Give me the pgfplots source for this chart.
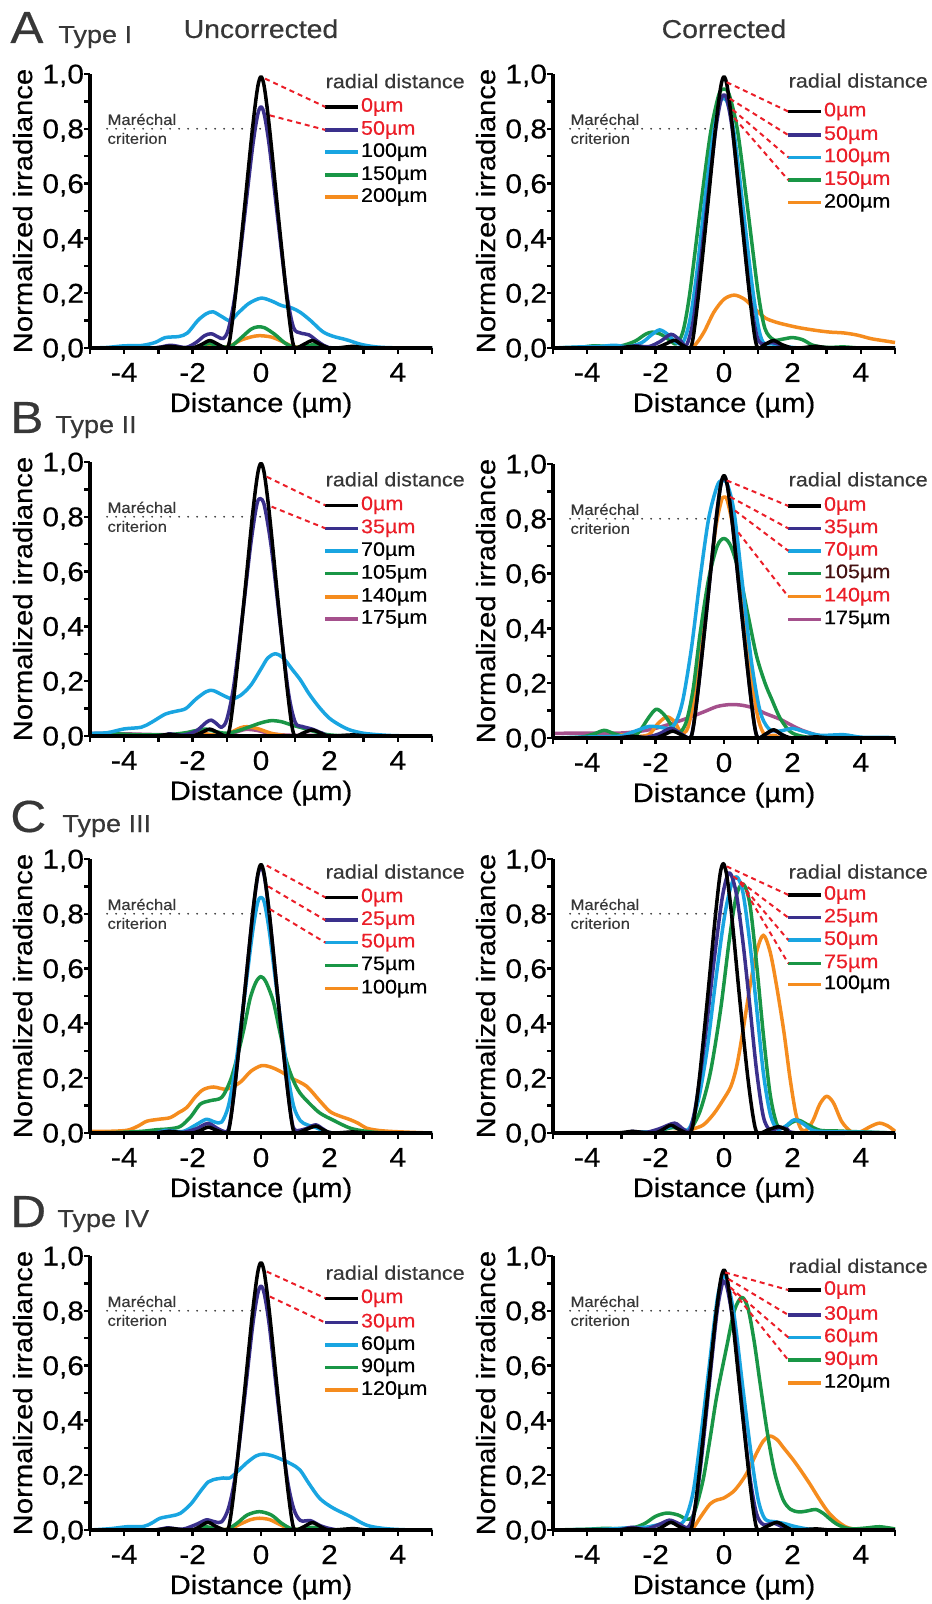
\documentclass[border=0pt]{standalone}
\usepackage{fontspec}
\setmainfont{Liberation Sans}[FakeStretch=1.1, FakeBold=0.4]
\usepackage{pgfplots}
\pgfplotsset{compat=1.18}

\definecolor{cblack}{RGB}{0,0,0}
\definecolor{cpurple}{RGB}{58,48,140}
\definecolor{cblue}{RGB}{25,165,225}
\definecolor{cgreen}{RGB}{25,150,70}
\definecolor{corange}{RGB}{245,140,30}
\definecolor{cmagenta}{RGB}{165,80,140}
\definecolor{cred}{RGB}{235,30,40}
\definecolor{cgray}{RGB}{55,55,55}
\definecolor{cbrown}{RGB}{70,18,18}

\newcommand{\fsTick}{\fontsize{13.6pt}{15pt}\selectfont}
\newcommand{\fsLab}{\fontsize{13.3pt}{15pt}\selectfont}
\newcommand{\fsLeg}{\fontsize{9.8pt}{11pt}\selectfont}
\newcommand{\fsMar}{\fontsize{7.6pt}{9pt}\selectfont}

% legend row: y, line colour, text colour, text
\newcommand{\lrow}[4]{\draw[#2, line width=1.7pt] (axis cs:1.88,#1) -- (axis cs:2.84,#1) node[anchor=west, inner sep=0.6pt, font=\fsLeg, text=#3] {#4};}
\newcommand{\ltitle}[1]{\node[anchor=west, inner sep=0pt, font=\fsLeg, text=cgray] at (axis cs:1.88,#1) {radial distance};}
\newcommand{\rdash}[4]{\draw[cred, line width=1pt, dash pattern=on 2.5pt off 2pt] (axis cs:#1,#2) -- (axis cs:#3,#4);}
\newcommand{\marechal}[1]{%
  \draw[cgray, line width=1pt, line cap=round, dash pattern=on 0pt off 4.5pt] (axis cs:-4.5,0.8) -- (axis cs:#1,0.8);
  \node[anchor=base west, inner sep=0pt, font=\fsMar, text=cgray] at (axis cs:-4.5,0.814) {Maréchal};
  \node[anchor=base west, inner sep=0pt, font=\fsMar, text=cgray] at (axis cs:-4.5,0.745) {criterion};}

\pgfplotsset{
  psf/.style={
    scale only axis, width=171pt, height=137pt,
    xmin=-5, xmax=5, ymin=0, ymax=1,
    axis lines*=left, axis on top, clip=false,
    axis line style={line width=1.8pt, -},
    tick style={line width=1.2pt, black},
    tick align=outside,
    major tick length=2.8pt, minor tick length=2.8pt,
    xtick={-4,-2,0,2,4}, xticklabels={-4,-2,0,2,4},
    minor xtick={-5,-3,-1,1,3,5},
    ytick={0,0.2,0.4,0.6,0.8,1},
    yticklabels={{0,0},{0,2},{0,4},{0,6},{0,8},{1,0}},
    minor ytick={0.1,0.3,0.5,0.7,0.9},
    xticklabel style={font=\fsTick, anchor=north, inner sep=0pt, yshift=-4.5pt},
    yticklabel style={font=\fsTick, anchor=east, inner sep=0pt, text depth=0pt},
    xlabel={Distance (µm)}, ylabel={Normalized irradiance},
    xlabel style={font=\fsLab, at={(axis description cs:0.5,-0.2336)}, anchor=base},
    ylabel style={font=\fsLab, at={(axis description cs:-0.197,0.5)}, anchor=center},
    every axis plot/.append style={line width=1.75pt, smooth, line join=round},
  }
}

\begin{document}
\begin{tikzpicture}
\useasboundingbox (0,0) rectangle (465.5pt,-802pt);

% ---------------- A, uncorrected
\begin{axis}[psf, at={(45pt,-174pt)}, anchor=south west]
\addplot[corange] coordinates {(-5,0) (-2,0) (-1.6,0.006) (-1.2,0.002) (-0.9,0.008) (-0.6,0.028) (-0.3,0.04) (-0.05,0.045) (0.3,0.04) (0.6,0.025) (0.9,0.007) (1.2,0.002) (1.6,0.005) (2,0) (5,0)};
\addplot[cgreen] coordinates {(-5,0) (-2.2,0) (-1.8,0.008) (-1.5,0.016) (-1.2,0.006) (-0.9,0.005) (-0.6,0.035) (-0.3,0.068) (-0.1,0.077) (0.1,0.074) (0.4,0.05) (0.7,0.018) (0.95,0.003) (1.25,0.005) (1.55,0.012) (1.9,0.002) (2.3,0) (5,0)};
\addplot[cblue] coordinates {(-5,0) (-4.5,0.002) (-4.0,0.008) (-3.5,0.009) (-3.1,0.02) (-2.8,0.038) (-2.4,0.042) (-2.15,0.055) (-1.85,0.1) (-1.6,0.125) (-1.4,0.132) (-1.15,0.115) (-0.9,0.1) (-0.65,0.13) (-0.35,0.163) (0,0.182) (0.3,0.172) (0.6,0.155) (0.9,0.146) (1.15,0.13) (1.45,0.1) (1.8,0.06) (2.1,0.043) (2.5,0.03) (2.9,0.014) (3.3,0.005) (3.8,0.001) (5,0)};
\addplot[cpurple] coordinates {(-5,0) (-3.2,0) (-2.65,0.01) (-2.2,0.002) (-1.9,0.02) (-1.65,0.045) (-1.45,0.052) (-1.25,0.04) (-1.1,0.035) (-0.95,0.07) (-0.75,0.2) (-0.5,0.46) (-0.25,0.73) (-0.1,0.85) (0,0.88) (0.1,0.85) (0.25,0.73) (0.5,0.46) (0.75,0.2) (0.95,0.075) (1.15,0.055) (1.4,0.048) (1.65,0.025) (1.9,0.006) (2.3,0) (5,0)};
\addplot[cblack] coordinates {(-5,0) (-3.2,0) (-2.7,0.006) (-2.3,0.001) (-2.0,0) (-1.75,0.012) (-1.5,0.027) (-1.25,0.013) (-1.0,0) (-0.9,0.04) (-0.75,0.19) (-0.5,0.49) (-0.25,0.80) (-0.1,0.95) (0,0.99) (0.1,0.95) (0.25,0.80) (0.5,0.49) (0.75,0.19) (0.9,0.04) (1.0,0) (1.25,0.013) (1.5,0.027) (1.75,0.012) (2.0,0) (2.3,0.001) (2.7,0.006) (3.2,0) (5,0)};
\marechal{0.07}
\ltitle{0.974}
\lrow{0.880}{cblack}{cred}{0µm}
\lrow{0.796}{cpurple}{cred}{50µm}
\lrow{0.715}{cblue}{black}{100µm}
\lrow{0.631}{cgreen}{black}{150µm}
\lrow{0.551}{corange}{black}{200µm}
\rdash{0.12}{0.983}{1.88}{0.880}
\rdash{0.26}{0.849}{1.88}{0.796}
\end{axis}

% ---------------- A, corrected
\begin{axis}[psf, at={(276.5pt,-174pt)}, anchor=south west]
\addplot[corange] coordinates {(-5,0) (-1.3,0) (-0.9,0.006) (-0.6,0.055) (-0.3,0.13) (0,0.178) (0.3,0.193) (0.6,0.178) (0.9,0.143) (1.2,0.11) (1.5,0.095) (1.8,0.085) (2.2,0.074) (2.7,0.064) (3.1,0.058) (3.5,0.055) (3.9,0.047) (4.3,0.034) (4.7,0.026) (5,0.02)};
\addplot[cgreen] coordinates {(-5,0) (-4.2,0.003) (-3.8,0.008) (-3.4,0.006) (-3.0,0.008) (-2.6,0.025) (-2.3,0.05) (-2.1,0.058) (-1.85,0.05) (-1.6,0.03) (-1.4,0.015) (-1.2,0.06) (-1.0,0.2) (-0.7,0.5) (-0.4,0.78) (-0.15,0.925) (0,0.945) (0.15,0.925) (0.4,0.79) (0.7,0.5) (1.0,0.2) (1.2,0.07) (1.45,0.03) (1.7,0.032) (2.0,0.038) (2.3,0.03) (2.6,0.01) (3.0,0.002) (3.5,0.004) (4,0) (5,0)};
\addplot[cblue] coordinates {(-5,0) (-4.2,0.004) (-3.6,0.006) (-3.2,0.01) (-2.8,0.005) (-2.4,0.02) (-2.1,0.05) (-1.88,0.066) (-1.65,0.05) (-1.4,0.02) (-1.2,0.02) (-1.0,0.1) (-0.8,0.27) (-0.55,0.55) (-0.3,0.79) (-0.12,0.895) (-0.03,0.91) (0.1,0.895) (0.3,0.78) (0.55,0.52) (0.8,0.25) (1.0,0.08) (1.15,0.02) (1.4,0.015) (1.6,0.01) (2,0.002) (2.5,0) (5,0)};
\addplot[cpurple] coordinates {(-5,0) (-3.0,0) (-2.6,0.008) (-2.2,0.005) (-1.85,0.025) (-1.55,0.05) (-1.3,0.03) (-1.1,0.01) (-0.9,0.1) (-0.7,0.3) (-0.5,0.52) (-0.25,0.79) (-0.1,0.9) (0,0.925) (0.1,0.9) (0.25,0.79) (0.5,0.5) (0.75,0.2) (0.95,0.05) (1.1,0.015) (1.4,0.02) (1.7,0.01) (2,0) (5,0)};
\addplot[cblack] coordinates {(-5,0) (-3.2,0) (-2.7,0.006) (-2.3,0.001) (-2.0,0) (-1.75,0.012) (-1.45,0.028) (-1.25,0.013) (-1.0,0) (-0.9,0.04) (-0.75,0.19) (-0.5,0.49) (-0.25,0.80) (-0.1,0.95) (0,0.99) (0.1,0.95) (0.25,0.80) (0.5,0.49) (0.75,0.19) (0.9,0.04) (1.0,0) (1.2,0.013) (1.45,0.027) (1.7,0.012) (2.0,0) (2.3,0.001) (2.7,0.006) (3.2,0) (5,0)};
\marechal{0.1}
\ltitle{0.976}
\lrow{0.863}{cblack}{cred}{0µm}
\lrow{0.777}{cpurple}{cred}{50µm}
\lrow{0.696}{cblue}{cred}{100µm}
\lrow{0.613}{cgreen}{cred}{150µm}
\lrow{0.530}{corange}{black}{200µm}
\rdash{0.08}{0.97}{1.88}{0.863}
\rdash{0.17}{0.91}{1.88}{0.777}
\rdash{0.25}{0.87}{1.88}{0.696}
\rdash{0.3}{0.84}{1.88}{0.613}
\end{axis}

% ---------------- B, uncorrected
\begin{axis}[psf, at={(45pt,-368pt)}, anchor=south west]
\addplot[cmagenta] coordinates {(-5,0.01) (-4,0.008) (-3,0.005) (-2,0.004) (-1.2,0.004) (-0.8,0.012) (-0.45,0.024) (-0.1,0.02) (0.3,0.008) (0.8,0.003) (1.5,0.002) (2.5,0) (5,0)};
\addplot[corange] coordinates {(-5,0) (-2.8,0) (-2.2,0.006) (-1.9,0.012) (-1.6,0.008) (-1.2,0.002) (-0.9,0.012) (-0.6,0.03) (-0.4,0.034) (-0.1,0.027) (0.3,0.01) (0.7,0.002) (1.2,0) (5,0)};
\addplot[cgreen] coordinates {(-5,0.008) (-4.3,0.008) (-3.5,0.004) (-2.7,0.005) (-2.2,0.012) (-1.9,0.02) (-1.6,0.025) (-1.3,0.015) (-1.0,0.01) (-0.7,0.018) (-0.3,0.035) (0,0.048) (0.3,0.056) (0.6,0.052) (0.9,0.04) (1.2,0.03) (1.6,0.015) (2.0,0.004) (2.6,0.001) (5,0)};
\addplot[cblue] coordinates {(-5,0.01) (-4.5,0.012) (-4.0,0.026) (-3.5,0.032) (-3.2,0.05) (-2.8,0.08) (-2.5,0.09) (-2.2,0.1) (-1.9,0.135) (-1.6,0.162) (-1.4,0.166) (-1.1,0.148) (-0.85,0.136) (-0.6,0.148) (-0.3,0.185) (0,0.245) (0.2,0.285) (0.42,0.3) (0.65,0.285) (0.9,0.245) (1.15,0.205) (1.4,0.155) (1.7,0.105) (2.0,0.065) (2.3,0.04) (2.6,0.022) (3.0,0.01) (3.5,0.004) (4,0.001) (5,0)};
\addplot[cpurple] coordinates {(-5,0) (-3,0) (-2.7,0.008) (-2.3,0.003) (-1.9,0.018) (-1.6,0.05) (-1.45,0.058) (-1.3,0.045) (-1.15,0.032) (-1.0,0.06) (-0.8,0.18) (-0.55,0.43) (-0.3,0.7) (-0.13,0.84) (-0.03,0.867) (0.1,0.84) (0.3,0.69) (0.55,0.42) (0.8,0.16) (1.0,0.05) (1.2,0.035) (1.5,0.025) (1.8,0.01) (2.2,0) (5,0)};
\addplot[cblack] coordinates {(-5,0) (-3.2,0) (-2.7,0.006) (-2.3,0.001) (-2.0,0) (-1.75,0.012) (-1.5,0.025) (-1.25,0.012) (-1.0,0) (-0.9,0.04) (-0.75,0.19) (-0.5,0.49) (-0.25,0.805) (-0.1,0.955) (0,0.995) (0.1,0.955) (0.25,0.805) (0.5,0.49) (0.75,0.19) (0.9,0.04) (1.0,0) (1.25,0.012) (1.5,0.022) (1.75,0.01) (2.0,0) (2.7,0.004) (3.2,0) (5,0)};
\marechal{0.03}
\ltitle{0.937}
\lrow{0.842}{cblack}{cred}{0µm}
\lrow{0.758}{cpurple}{cred}{35µm}
\lrow{0.675}{cblue}{black}{70µm}
\lrow{0.592}{cgreen}{black}{105µm}
\lrow{0.508}{corange}{black}{140µm}
\lrow{0.427}{cmagenta}{black}{175µm}
\rdash{0.17}{0.946}{1.88}{0.842}
\rdash{0.31}{0.837}{1.88}{0.758}
\end{axis}

% ---------------- B, corrected
\begin{axis}[psf, at={(276.5pt,-369pt)}, anchor=south west]
\addplot[cmagenta] coordinates {(-5,0.017) (-4,0.018) (-3.05,0.018) (-2.5,0.024) (-2.07,0.033) (-1.6,0.05) (-1.1,0.071) (-0.6,0.095) (-0.2,0.115) (0.17,0.122) (0.5,0.12) (0.85,0.11) (1.2,0.09) (1.63,0.069) (2.0,0.045) (2.31,0.027) (2.8,0.008) (3.3,0.002) (4,0) (5,0)};
\addplot[corange] coordinates {(-5,0) (-3.4,0.003) (-3.0,0.012) (-2.6,0.006) (-2.2,0.012) (-1.95,0.05) (-1.68,0.077) (-1.45,0.06) (-1.25,0.02) (-1.05,0.04) (-0.8,0.2) (-0.5,0.5) (-0.25,0.76) (-0.08,0.865) (0,0.879) (0.1,0.865) (0.3,0.74) (0.55,0.47) (0.8,0.22) (1.0,0.07) (1.2,0.01) (1.5,0.01) (1.9,0) (5,0)};
\addplot[cgreen] coordinates {(-5,0) (-4.2,0.003) (-3.8,0.015) (-3.5,0.028) (-3.2,0.015) (-2.8,0.003) (-2.5,0.02) (-2.2,0.075) (-1.98,0.105) (-1.75,0.085) (-1.5,0.04) (-1.3,0.02) (-1.1,0.06) (-0.9,0.18) (-0.7,0.38) (-0.45,0.58) (-0.2,0.7) (0,0.728) (0.2,0.7) (0.45,0.6) (0.7,0.45) (0.95,0.3) (1.2,0.2) (1.4,0.14) (1.65,0.07) (1.95,0.022) (2.3,0.006) (2.8,0) (5,0)};
\addplot[cblue] coordinates {(-5,0) (-4.2,0.003) (-3.5,0.005) (-3.0,0.008) (-2.6,0.025) (-2.2,0.042) (-1.9,0.04) (-1.6,0.035) (-1.4,0.06) (-1.2,0.14) (-0.95,0.33) (-0.7,0.58) (-0.45,0.8) (-0.2,0.92) (-0.05,0.94) (0.1,0.925) (0.3,0.82) (0.55,0.55) (0.8,0.28) (1.05,0.1) (1.3,0.035) (1.6,0.025) (2.0,0.035) (2.3,0.025) (2.8,0.01) (3.5,0.012) (4,0.003) (4.8,0.002) (5,0)};
\addplot[cpurple] coordinates {(-5,0) (-3.2,0) (-2.7,0.006) (-2.3,0.002) (-1.9,0.015) (-1.55,0.035) (-1.25,0.015) (-1.0,0) (-0.9,0.04) (-0.75,0.185) (-0.5,0.475) (-0.25,0.78) (-0.1,0.92) (0,0.955) (0.1,0.92) (0.25,0.78) (0.5,0.475) (0.75,0.185) (0.9,0.04) (1.0,0) (1.2,0.012) (1.45,0.028) (1.7,0.012) (2.0,0) (5,0)};
\addplot[cblack] coordinates {(-5,0) (-3.2,0) (-2.7,0.006) (-2.3,0.001) (-2.0,0) (-1.75,0.012) (-1.5,0.025) (-1.25,0.012) (-1.0,0) (-0.9,0.038) (-0.75,0.182) (-0.5,0.474) (-0.25,0.776) (-0.1,0.92) (0,0.958) (0.1,0.92) (0.25,0.776) (0.5,0.474) (0.75,0.182) (0.9,0.038) (1.0,0) (1.2,0.013) (1.45,0.03) (1.7,0.012) (2.0,0) (2.7,0.004) (3.2,0) (5,0)};
\marechal{0.08}
\ltitle{0.944}
\lrow{0.847}{cblack}{cred}{0µm}
\lrow{0.765}{cpurple}{cred}{35µm}
\lrow{0.683}{cblue}{cred}{70µm}
\lrow{0.601}{cgreen}{cbrown}{105µm}
\lrow{0.516}{corange}{cred}{140µm}
\lrow{0.433}{cmagenta}{black}{175µm}
\rdash{0.08}{0.94}{1.88}{0.847}
\rdash{0.18}{0.88}{1.88}{0.765}
\rdash{0.32}{0.83}{1.88}{0.683}
\rdash{0.42}{0.75}{1.88}{0.516}
\end{axis}

% ---------------- C, uncorrected
\begin{axis}[psf, at={(45pt,-566.5pt)}, anchor=south west]
\addplot[corange] coordinates {(-5,0.006) (-4.5,0.006) (-3.92,0.01) (-3.6,0.025) (-3.34,0.043) (-3.0,0.05) (-2.66,0.056) (-2.4,0.075) (-2.17,0.093) (-1.9,0.135) (-1.68,0.159) (-1.39,0.168) (-1.0,0.16) (-0.61,0.185) (-0.3,0.225) (0.02,0.246) (0.3,0.24) (0.55,0.226) (0.9,0.2) (1.33,0.171) (1.7,0.12) (2.01,0.079) (2.3,0.062) (2.6,0.049) (2.85,0.035) (3.08,0.018) (3.4,0.01) (3.77,0.006) (4.5,0.002) (5,0)};
\addplot[cgreen] coordinates {(-5,0) (-4.2,0.002) (-3.5,0.006) (-3.05,0.012) (-2.7,0.015) (-2.36,0.024) (-2.05,0.06) (-1.78,0.105) (-1.49,0.118) (-1.15,0.13) (-0.9,0.19) (-0.71,0.27) (-0.5,0.38) (-0.32,0.49) (-0.15,0.55) (0,0.571) (0.15,0.55) (0.36,0.48) (0.55,0.37) (0.75,0.26) (0.95,0.19) (1.14,0.146) (1.4,0.11) (1.72,0.073) (2.11,0.047) (2.6,0.018) (3.08,0.006) (3.6,0.001) (5,0)};
\addplot[cblue] coordinates {(-5,0) (-3.2,0) (-2.8,0.01) (-2.3,0.005) (-1.9,0.03) (-1.6,0.05) (-1.35,0.04) (-1.15,0.04) (-0.95,0.1) (-0.75,0.24) (-0.5,0.48) (-0.25,0.73) (-0.1,0.84) (0,0.86) (0.1,0.84) (0.25,0.73) (0.5,0.48) (0.75,0.24) (0.95,0.1) (1.15,0.045) (1.35,0.03) (1.6,0.02) (1.9,0.005) (2.3,0) (5,0)};
\addplot[cpurple] coordinates {(-5,0) (-3.2,0) (-2.7,0.006) (-2.3,0.002) (-1.9,0.015) (-1.55,0.035) (-1.25,0.015) (-1.0,0.005) (-0.9,0.045) (-0.75,0.19) (-0.5,0.485) (-0.25,0.79) (-0.1,0.935) (0,0.97) (0.1,0.935) (0.25,0.79) (0.5,0.485) (0.75,0.19) (0.9,0.045) (1.0,0.01) (1.3,0.015) (1.6,0.03) (1.85,0.012) (2.2,0) (5,0)};
\addplot[cblack] coordinates {(-5,0) (-3.2,0) (-2.7,0.006) (-2.3,0.001) (-2.0,0) (-1.75,0.01) (-1.55,0.022) (-1.3,0.01) (-1.0,0) (-0.9,0.039) (-0.75,0.186) (-0.5,0.485) (-0.25,0.794) (-0.1,0.94) (0,0.98) (0.1,0.94) (0.25,0.794) (0.5,0.485) (0.75,0.186) (0.9,0.039) (1.0,0) (1.3,0.012) (1.6,0.025) (1.85,0.01) (2.1,0) (2.7,0.004) (3.2,0) (5,0)};
\marechal{0.26}
\ltitle{0.954}
\lrow{0.860}{cblack}{cred}{0µm}
\lrow{0.777}{cpurple}{cred}{25µm}
\lrow{0.695}{cblue}{cred}{50µm}
\lrow{0.612}{cgreen}{black}{75µm}
\lrow{0.527}{corange}{black}{100µm}
\rdash{0.17}{0.976}{1.88}{0.860}
\rdash{0.21}{0.90}{1.88}{0.777}
\rdash{0.26}{0.817}{1.88}{0.695}
\end{axis}

% ---------------- C, corrected
\begin{axis}[psf, at={(276.5pt,-566.5pt)}, anchor=south west]
\addplot[corange] coordinates {(-5,0) (-2,0) (-1.2,0.005) (-0.9,0.015) (-0.6,0.03) (-0.3,0.07) (-0.02,0.122) (0.2,0.17) (0.37,0.243) (0.55,0.37) (0.76,0.535) (0.95,0.66) (1.15,0.722) (1.35,0.66) (1.54,0.535) (1.75,0.37) (1.93,0.2) (2.1,0.07) (2.25,0.015) (2.4,0.01) (2.6,0.045) (2.8,0.105) (3.0,0.134) (3.2,0.11) (3.45,0.04) (3.75,0.002) (4.0,0.005) (4.3,0.025) (4.55,0.036) (4.8,0.025) (5,0.006)};
\addplot[cgreen] coordinates {(-5,0) (-3,0) (-2.5,0.003) (-2,0.005) (-1.5,0.02) (-1.2,0.01) (-1.0,0.01) (-0.7,0.08) (-0.4,0.22) (-0.1,0.45) (0.15,0.7) (0.35,0.86) (0.55,0.91) (0.75,0.84) (0.95,0.62) (1.15,0.36) (1.35,0.14) (1.55,0.03) (1.75,0.02) (2.0,0.04) (2.2,0.046) (2.45,0.03) (2.8,0.01) (3.2,0.008) (3.8,0.005) (5,0)};
\addplot[cblue] coordinates {(-5,0) (-3,0) (-2.5,0.003) (-2,0.005) (-1.5,0.025) (-1.2,0.012) (-1.0,0.02) (-0.75,0.12) (-0.5,0.3) (-0.25,0.55) (0,0.78) (0.2,0.9) (0.37,0.935) (0.55,0.88) (0.75,0.7) (0.95,0.46) (1.15,0.22) (1.35,0.07) (1.55,0.015) (1.8,0.025) (2.05,0.048) (2.3,0.035) (2.6,0.01) (3,0.005) (4,0.003) (5,0)};
\addplot[cpurple] coordinates {(-5,0) (-3,0) (-2.7,0.006) (-2.3,0.002) (-1.9,0.015) (-1.45,0.036) (-1.2,0.015) (-1.0,0.01) (-0.8,0.12) (-0.55,0.35) (-0.3,0.62) (-0.05,0.86) (0.15,0.95) (0.35,0.88) (0.55,0.7) (0.75,0.47) (0.95,0.23) (1.15,0.06) (1.35,0.01) (1.6,0.02) (1.85,0.015) (2.2,0) (5,0)};
\addplot[cblack] coordinates {(-5,0) (-3.2,0) (-2.7,0.006) (-2.3,0.001) (-2.0,0) (-1.8,0.012) (-1.55,0.028) (-1.3,0.012) (-1.0,0) (-0.88,0.05) (-0.72,0.2) (-0.5,0.47) (-0.27,0.77) (-0.12,0.94) (-0.02,0.983) (0.08,0.94) (0.22,0.8) (0.45,0.5) (0.68,0.22) (0.85,0.06) (0.98,0) (1.3,0.012) (1.6,0.023) (1.85,0.01) (2.1,0) (5,0)};
\marechal{0.71}
\ltitle{0.954}
\lrow{0.869}{cblack}{cred}{0µm}
\lrow{0.786}{cpurple}{cred}{25µm}
\lrow{0.704}{cblue}{cred}{50µm}
\lrow{0.619}{cgreen}{cred}{75µm}
\lrow{0.543}{corange}{black}{100µm}
\rdash{0.08}{0.973}{1.88}{0.869}
\rdash{0.27}{0.937}{1.88}{0.786}
\rdash{0.47}{0.912}{1.88}{0.704}
\rdash{0.66}{0.876}{1.88}{0.619}
\end{axis}

% ---------------- D, uncorrected
\begin{axis}[psf, at={(45pt,-765pt)}, anchor=south west]
\addplot[corange] coordinates {(-5,0) (-2.2,0) (-1.8,0.004) (-1.5,0.005) (-1.2,0.001) (-0.9,0.005) (-0.6,0.022) (-0.3,0.038) (-0.05,0.043) (0.25,0.038) (0.55,0.02) (0.85,0.004) (1.2,0.002) (1.6,0.004) (2,0) (5,0)};
\addplot[cgreen] coordinates {(-5,0) (-2.2,0) (-1.85,0.006) (-1.6,0.012) (-1.35,0.006) (-1.0,0.002) (-0.7,0.025) (-0.4,0.055) (-0.05,0.067) (0.3,0.055) (0.6,0.025) (0.9,0.004) (1.2,0.004) (1.5,0.01) (1.8,0.004) (2.2,0) (5,0)};
\addplot[cblue] coordinates {(-5,0) (-4.4,0.005) (-3.92,0.012) (-3.44,0.013) (-3.2,0.025) (-2.95,0.043) (-2.6,0.052) (-2.36,0.061) (-2.05,0.095) (-1.78,0.14) (-1.55,0.175) (-1.39,0.184) (-1.1,0.19) (-0.91,0.19) (-0.65,0.218) (-0.42,0.245) (-0.15,0.27) (0.07,0.277) (0.35,0.27) (0.65,0.255) (0.9,0.24) (1.14,0.219) (1.4,0.17) (1.72,0.115) (2.11,0.08) (2.6,0.05) (3.08,0.018) (3.57,0.006) (4.2,0.001) (5,0)};
\addplot[cpurple] coordinates {(-5,0) (-3.2,0) (-2.75,0.008) (-2.3,0.003) (-1.9,0.02) (-1.6,0.037) (-1.35,0.03) (-1.15,0.03) (-0.95,0.08) (-0.75,0.2) (-0.5,0.46) (-0.25,0.74) (-0.1,0.86) (0,0.89) (0.1,0.86) (0.25,0.74) (0.5,0.46) (0.75,0.2) (0.95,0.08) (1.15,0.035) (1.45,0.034) (1.75,0.015) (2.1,0.003) (2.5,0) (5,0)};
\addplot[cblack] coordinates {(-5,0) (-3.2,0) (-2.7,0.006) (-2.3,0.001) (-2.0,0) (-1.8,0.012) (-1.55,0.028) (-1.3,0.012) (-1.0,0) (-0.9,0.039) (-0.75,0.185) (-0.5,0.483) (-0.25,0.79) (-0.1,0.937) (0,0.976) (0.1,0.937) (0.25,0.79) (0.5,0.483) (0.75,0.185) (0.9,0.039) (1.0,0) (1.25,0.012) (1.5,0.027) (1.75,0.012) (2.0,0) (2.7,0.005) (3.2,0) (5,0)};
\marechal{0.17}
\ltitle{0.939}
\lrow{0.846}{cblack}{cred}{0µm}
\lrow{0.757}{cpurple}{cred}{30µm}
\lrow{0.675}{cblue}{black}{60µm}
\lrow{0.594}{cgreen}{black}{90µm}
\lrow{0.511}{corange}{black}{120µm}
\rdash{0.17}{0.943}{1.88}{0.846}
\rdash{0.26}{0.852}{1.88}{0.757}
\end{axis}

% ---------------- D, corrected
\begin{axis}[psf, at={(276.5pt,-765pt)}, anchor=south west]
\addplot[corange] coordinates {(-5,0) (-1.2,0) (-0.94,0.002) (-0.7,0.045) (-0.41,0.095) (-0.2,0.11) (-0.02,0.116) (0.27,0.14) (0.5,0.175) (0.7,0.215) (0.95,0.28) (1.15,0.325) (1.34,0.343) (1.55,0.33) (1.73,0.302) (2.0,0.26) (2.22,0.222) (2.5,0.17) (2.8,0.11) (3.05,0.065) (3.29,0.035) (3.55,0.012) (3.78,0.004) (4.2,0) (5,0)};
\addplot[cgreen] coordinates {(-5,0) (-4,0.003) (-3.5,0.006) (-3.0,0.005) (-2.6,0.01) (-2.3,0.025) (-2.0,0.05) (-1.67,0.062) (-1.35,0.055) (-1.1,0.04) (-0.94,0.045) (-0.8,0.09) (-0.6,0.19) (-0.4,0.34) (-0.21,0.49) (0.08,0.67) (0.3,0.8) (0.52,0.849) (0.7,0.81) (0.88,0.69) (1.05,0.54) (1.2,0.41) (1.34,0.3) (1.5,0.2) (1.73,0.11) (1.95,0.075) (2.2,0.066) (2.45,0.07) (2.68,0.075) (2.9,0.061) (3.1,0.04) (3.29,0.022) (3.55,0.008) (3.8,0.004) (4.2,0.008) (4.55,0.012) (5,0.004)};
\addplot[cblue] coordinates {(-5,0) (-3.5,0.003) (-2.8,0.008) (-2.3,0.01) (-1.9,0.02) (-1.6,0.03) (-1.3,0.02) (-1.1,0.05) (-0.9,0.14) (-0.7,0.32) (-0.45,0.58) (-0.2,0.84) (-0.03,0.925) (0.1,0.905) (0.3,0.78) (0.55,0.52) (0.8,0.27) (1.0,0.11) (1.2,0.04) (1.5,0.03) (1.75,0.024) (2.1,0.012) (2.5,0.003) (3,0) (5,0)};
\addplot[cpurple] coordinates {(-5,0) (-3.2,0) (-2.7,0.01) (-2.3,0.003) (-1.9,0.02) (-1.6,0.036) (-1.35,0.025) (-1.05,0.01) (-0.85,0.08) (-0.65,0.27) (-0.4,0.57) (-0.2,0.8) (-0.05,0.9) (0,0.906) (0.1,0.88) (0.3,0.73) (0.5,0.48) (0.75,0.2) (0.95,0.06) (1.15,0.02) (1.45,0.025) (1.7,0.012) (2,0) (5,0)};
\addplot[cblack] coordinates {(-5,0) (-3.2,0) (-2.7,0.006) (-2.3,0.001) (-2.0,0) (-1.8,0.012) (-1.55,0.028) (-1.3,0.012) (-1.0,0) (-0.9,0.038) (-0.75,0.18) (-0.5,0.47) (-0.25,0.769) (-0.1,0.911) (0,0.949) (0.1,0.911) (0.25,0.769) (0.5,0.47) (0.75,0.18) (0.9,0.038) (1.0,0) (1.25,0.013) (1.55,0.028) (1.8,0.012) (2.05,0) (2.7,0.004) (3.2,0) (5,0)};
\marechal{0.76}
\ltitle{0.964}
\lrow{0.876}{cblack}{cred}{0µm}
\lrow{0.785}{cpurple}{cred}{30µm}
\lrow{0.703}{cblue}{cred}{60µm}
\lrow{0.620}{cgreen}{cred}{90µm}
\lrow{0.537}{corange}{black}{120µm}
\rdash{0.03}{0.94}{1.88}{0.876}
\rdash{0.13}{0.916}{1.88}{0.785}
\rdash{0.18}{0.886}{1.88}{0.703}
\rdash{0.27}{0.87}{1.88}{0.620}
\end{axis}

% ---------------- headings
\node[anchor=base, font=\fontsize{12.9pt}{14pt}\selectfont, text=cgray] at (130.5pt,-19pt) {Uncorrected};
\node[anchor=base, font=\fontsize{12.9pt}{14pt}\selectfont, text=cgray] at (362pt,-19pt) {Corrected};
\foreach \L/\T/\ty/\tx in {A/Type I/21.5/29, B/Type II/216.5/27.5, C/Type III/416/31, D/Type IV/613.5/28.5}{
  \node[anchor=base west, inner sep=0pt, font=\fontsize{22.5pt}{24pt}\selectfont, text=cgray] at (5pt,-\ty pt) {\L};
  \node[anchor=base west, inner sep=0pt, font=\fontsize{12.3pt}{14pt}\selectfont, text=cgray] at (\tx pt,-\ty pt) {\T};
}
\end{tikzpicture}
\end{document}
